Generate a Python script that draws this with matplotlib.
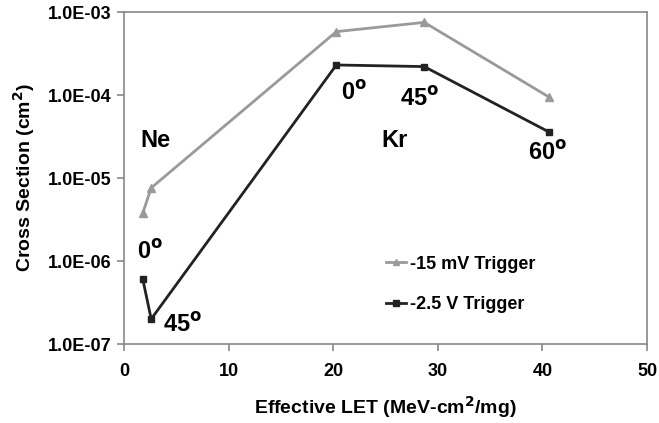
import matplotlib.pyplot as plt
from matplotlib.ticker import FixedLocator, FixedFormatter, NullLocator

plt.rcParams['font.family'] = ['Liberation Sans', 'DejaVu Sans']
plt.rcParams['font.weight'] = 'bold'
plt.rcParams['mathtext.default'] = 'bf'

# effective LET (MeV-cm2/mg) for Ne and Kr at each tilt angle
let_vals = [1.8, 2.6, 20.3, 28.7, 40.6]

# cross sections (cm2)
xs_15mv = [3.8e-6, 7.6e-6, 5.8e-4, 7.5e-4, 9.5e-5]
xs_2p5v = [6.0e-7, 2.0e-7, 2.3e-4, 2.2e-4, 3.6e-5]

ytick_vals = [1e-7, 1e-6, 1e-5, 1e-4, 1e-3]
ytick_labels = ["1.0E-07", "1.0E-06", "1.0E-05", "1.0E-04", "1.0E-03"]

fig = plt.figure(figsize=(6.59, 4.23), dpi=100)
ax = fig.add_axes([124 / 659, 1 - 344 / 423, (647 - 124) / 659, (344 - 12) / 423])

ax.plot(let_vals, xs_15mv, color='#9a9a9a', lw=2, marker='^', ms=6,
        label='-15 mV Trigger')
ax.plot(let_vals, xs_2p5v, color='#222222', lw=2, marker='s', ms=5,
        label='-2.5 V Trigger')

ax.set_yscale('log')
ax.set_xlim(0, 50)
ax.set_ylim(1e-7, 1e-3)
ax.yaxis.set_major_locator(FixedLocator(ytick_vals))
ax.yaxis.set_major_formatter(FixedFormatter(ytick_labels))
ax.yaxis.set_minor_locator(NullLocator())
ax.set_xticks([0, 10, 20, 30, 40, 50])

for s in ax.spines.values():
    s.set_color('#888888')
    s.set_linewidth(1.2)
ax.tick_params(axis='both', colors='#888888', labelcolor='black',
               labelsize=13, length=5, width=1.2, direction='out')
ax.tick_params(axis='x', pad=9)
ax.tick_params(axis='y', pad=4)
for lab in ax.get_xticklabels() + ax.get_yticklabels():
    lab.set_fontweight('bold')

ax.set_xlabel('Effective LET (MeV-cm$^2$/mg)', fontsize=14,
              fontweight='bold', labelpad=10)
ax.set_ylabel('Cross Section (cm$^2$)', fontsize=14,
              fontweight='bold', labelpad=8)

# ion and angle annotations
big = dict(fontsize=17, fontweight='bold', ha='center', va='center')
ax.text(3.0, 2.8e-5, 'Ne', **big)
ax.text(25.9, 2.8e-5, 'Kr', **big)
ax.text(2.5, 1.3e-6, '0$^o$', **big)
ax.text(5.6, 1.7e-7, '45$^o$', **big)
ax.text(22.0, 1.05e-4, '0$^o$', **big)
ax.text(28.3, 9.0e-5, '45$^o$', **big)
ax.text(40.5, 2.0e-5, '60$^o$', **big)

leg = ax.legend(loc='lower left', bbox_to_anchor=(0.48, 0.06), frameon=False,
                fontsize=13, handlelength=1.1, handletextpad=0.25,
                labelspacing=1.3, markerscale=0.8, borderaxespad=0.2)

fig.savefig('out.png', dpi=100)
